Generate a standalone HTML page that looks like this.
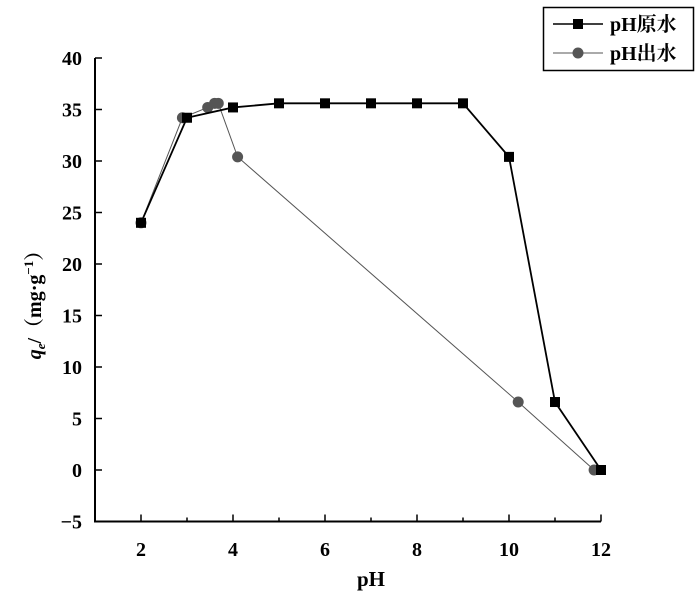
<!DOCTYPE html>
<html><head><meta charset="utf-8"><style>
body{margin:0;background:#fff}
svg{font-family:"Liberation Serif","Noto Serif CJK SC",serif;font-weight:bold}
</style></head><body>
<svg width="700" height="600" viewBox="0 0 700 600">
<g id="axes"></g><g id="plot"></g>
<g>
<rect x="543.5" y="7.5" width="150" height="63" fill="#fff" stroke="#000" stroke-width="1.5"/>
<line x1="553" y1="24" x2="603" y2="24" stroke="#000" stroke-width="1.5"/>
<rect x="573" y="19" width="10" height="10" fill="#000"/>
<text x="610" y="31" font-size="20">pH原水</text>
<line x1="553" y1="53" x2="603" y2="53" stroke="#555" stroke-width="1"/>
<circle cx="578" cy="53" r="5.5" fill="#555"/>
<text x="610" y="60" font-size="20">pH出水</text>
</g>
<text x="371" y="586" font-size="21" text-anchor="middle">pH</text>
<text transform="translate(41,300) rotate(-90)" font-size="20" text-anchor="middle"><tspan font-style="italic">q</tspan><tspan font-size="13" dy="4" font-style="italic">e</tspan><tspan dy="-4">/（mg·g</tspan><tspan font-size="13" dy="-8">−1</tspan><tspan dy="8">）</tspan></text>
</svg>
<script>
const rawX=[2,3,4,5,6,7,8,9,10,11,12];
const rawY=[24,34.2,35.2,35.6,35.6,35.6,35.6,35.6,30.4,6.6,0];
const outX=[2,2.9,3.45,3.6,3.68,4.1,10.2,11.85];
const outY=[24,34.2,35.2,35.6,35.6,30.4,6.6,0];
const xTicks=[2,4,6,8,10,12];
const yTicks=[-5,0,5,10,15,20,25,30,35,40];
const NS="http://www.w3.org/2000/svg";
const sx=v=>95+(v-1)*46;
const sy=v=>470-v*10.3;
function mk(p,t,a){const e=document.createElementNS(NS,t);for(const k in a)e.setAttribute(k,a[k]);p.appendChild(e);return e;}
const ax=document.getElementById('axes'),pl=document.getElementById('plot');
const yl=mk(ax,'line',{x1:sx(1),y1:sy(-5),x2:sx(1),y2:sy(40),stroke:'#000','stroke-width':2});


const xl=mk(ax,'line',{x1:sx(1)-1,y1:sy(-5),x2:sx(12),y2:sy(-5),stroke:'#000','stroke-width':2});


yTicks.forEach(v=>{
 mk(ax,'line',{x1:sx(1),y1:sy(v),x2:sx(1)+7,y2:sy(v),stroke:'#000','stroke-width':1.5});
 const t=mk(ax,'text',{x:sx(1)-13,y:sy(v)+7,'font-size':20,'text-anchor':'end'});
 t.textContent=v<0?'−'+(-v):v;
 
 
});
for(let v=2;v<=12;v++){
 mk(ax,'line',{x1:sx(v),y1:sy(-5),x2:sx(v),y2:sy(-5)-(v%2?4:7),stroke:'#000','stroke-width':1.5});
}
xTicks.forEach(v=>{
 const t=mk(ax,'text',{x:sx(v),y:556,'font-size':20,'text-anchor':'middle'});
 t.textContent=v;
 
 
});
function series(xs,ys,col,w,sq,name){
 const l=mk(pl,'polyline',{points:xs.map((x,i)=>sx(x)+','+sy(ys[i])).join(' '),fill:'none',stroke:col,'stroke-width':w});
 
 
 xs.forEach((x,i)=>{
  const m=sq?mk(pl,'rect',{x:sx(x)-5,y:sy(ys[i])-5,width:10,height:10,fill:col}):mk(pl,'circle',{cx:sx(x),cy:sy(ys[i]),r:5.5,fill:col});
  
  
 });
}
series(outX,outY,'#555',1,false,'ph-effluent');
series(rawX,rawY,'#000',1.8,true,'ph-raw');
</script>
</body></html>
